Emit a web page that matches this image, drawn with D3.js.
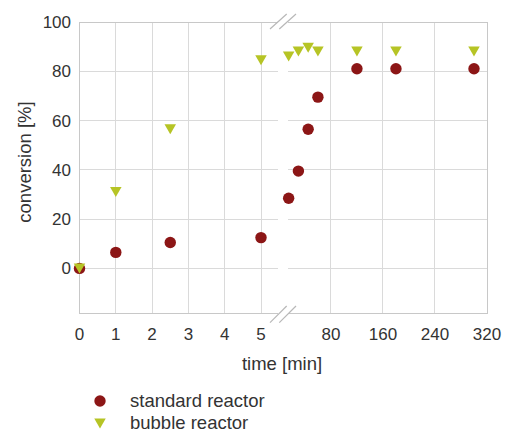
<!DOCTYPE html>
<html>
<head>
<meta charset="utf-8">
<script src="https://cdn.jsdelivr.net/npm/d3@7/dist/d3.min.js"></script>
<style>
  html, body { margin: 0; padding: 0; background: #fff; }
  svg { display: block; font-family: "Liberation Sans", Arial, sans-serif; }
</style>
</head>
<body>
<svg id="chart" width="505" height="432"></svg>
<script>
// Conversion over time, shown on a broken time axis (0–5 min, then 15–320 min)
const timeShort = [0, 1, 2.5, 5];
const timeLong = [15, 30, 45, 60, 120, 180, 300];

const standardShort = [0, 6.5, 10.5, 12.5];
const standardLong = [28.5, 39.5, 56.5, 69.5, 81, 81, 81];

const bubbleShort = [0, 31, 56.5, 84.5];
const bubbleLong = [86, 88, 89.5, 88, 88, 88, 88];

const yTicks = [0, 20, 40, 60, 80, 100];
const xTicksShort = [0, 1, 2, 3, 4, 5];
const xTicksLong = [80, 160, 240, 320];

const seriesNames = ["standard reactor", "bubble reactor"];
const seriesColors = ["#8c1616", "#b6c425"];

const svg = d3.select("#chart");
const plotTop = 22, plotBottom = 313.5;
const leftX0 = 79.5, leftX1 = 278;   // first panel extent
const rightX0 = 288, rightX1 = 487;  // second panel extent

const y = d3.scaleLinear().domain([-18.3, 100]).range([plotBottom, plotTop]);
const xShort = d3.scaleLinear().domain([0, 5]).range([leftX0, 261]);
const xLong = d3.scaleLinear().domain([14, 320]).range([rightX0, rightX1]);

const gridColor = "#dadada";
const frameColor = "#c8c8c8";
const textColor = "#333";

const grid = svg.append("g").attr("shape-rendering", "crispEdges");

// horizontal grid lines in both panels
[[leftX0, leftX1], [rightX0, rightX1]].forEach(([a, b]) => {
  grid.selectAll(null).data(yTicks.filter(t => t !== 100)).enter().append("line")
    .attr("x1", a).attr("x2", b)
    .attr("y1", d => y(d)).attr("y2", d => y(d))
    .attr("stroke", gridColor);
});

// vertical grid lines
grid.selectAll(null).data(xTicksShort.slice(1)).enter().append("line")
  .attr("x1", d => xShort(d)).attr("x2", d => xShort(d))
  .attr("y1", plotTop).attr("y2", plotBottom).attr("stroke", gridColor);
grid.selectAll(null).data(xTicksLong.slice(0, -1)).enter().append("line")
  .attr("x1", d => xLong(d)).attr("x2", d => xLong(d))
  .attr("y1", plotTop).attr("y2", plotBottom).attr("stroke", gridColor);

// panel frames (open at the break)
const frame = svg.append("g").attr("stroke", frameColor).attr("fill", "none")
  .attr("shape-rendering", "crispEdges");
frame.append("path").attr("d", `M${leftX1},${plotTop}H${leftX0}V${plotBottom}H${leftX1}`);
frame.append("path").attr("d", `M${rightX0},${plotTop}H${rightX1}V${plotBottom}H${rightX0}`);

// break marks
const brk = svg.append("g").attr("stroke", "#b8b8b8").attr("stroke-width", 1.2);
[[29, 14], [322.7, 306]].forEach(([y1, y2]) => {
  [0, 9.3].forEach(dx => {
    brk.append("line")
      .attr("x1", 270 + dx).attr("y1", y1)
      .attr("x2", 286.7 + dx).attr("y2", y2);
  });
});

// tick labels
const labels = svg.append("g").attr("fill", textColor).attr("font-size", 17);
labels.selectAll(null).data(yTicks).enter().append("text")
  .attr("x", 71).attr("y", d => y(d)).attr("dy", "0.35em")
  .attr("text-anchor", "end").text(d => d);
labels.selectAll(null).data(xTicksShort).enter().append("text")
  .attr("x", d => xShort(d)).attr("y", 339.5)
  .attr("text-anchor", "middle").text(d => d);
labels.selectAll(null).data(xTicksLong).enter().append("text")
  .attr("x", d => xLong(d)).attr("y", 339.5)
  .attr("text-anchor", "middle").text(d => d);

// axis titles
svg.append("text").attr("x", 282).attr("y", 370)
  .attr("text-anchor", "middle").attr("font-size", 18.5).attr("fill", textColor)
  .text("time [min]");
svg.append("text")
  .attr("transform", "translate(31,162) rotate(-90)")
  .attr("text-anchor", "middle").attr("font-size", 18.5).attr("fill", textColor)
  .text("conversion [%]");

// markers
const triPath = (cx, cy, w = 11.5, h = 10) =>
  `M${cx - w / 2},${cy - h / 2}L${cx + w / 2},${cy - h / 2}L${cx},${cy + h / 2}Z`;

const standardPts = timeShort.map((t, i) => [xShort(t), y(standardShort[i])])
  .concat(timeLong.map((t, i) => [xLong(t), y(standardLong[i])]));
const bubblePts = timeShort.map((t, i) => [xShort(t), y(bubbleShort[i])])
  .concat(timeLong.map((t, i) => [xLong(t), y(bubbleLong[i])]));

svg.append("g").selectAll("circle").data(standardPts).enter().append("circle")
  .attr("cx", d => d[0]).attr("cy", d => d[1]).attr("r", 5.7)
  .attr("fill", seriesColors[0]);

svg.append("g").selectAll("path").data(bubblePts).enter().append("path")
  .attr("d", d => triPath(d[0], d[1]))
  .attr("fill", seriesColors[1]);

// legend
const legend = svg.append("g").attr("font-size", 18.5).attr("fill", textColor);
legend.append("circle").attr("cx", 100).attr("cy", 401).attr("r", 5.7)
  .attr("fill", seriesColors[0]);
legend.append("text").attr("x", 130).attr("y", 406.5).text(seriesNames[0]);
legend.append("path").attr("d", triPath(100, 423.5)).attr("fill", seriesColors[1]);
legend.append("text").attr("x", 130).attr("y", 428.5).text(seriesNames[1]);
</script>
</body>
</html>
